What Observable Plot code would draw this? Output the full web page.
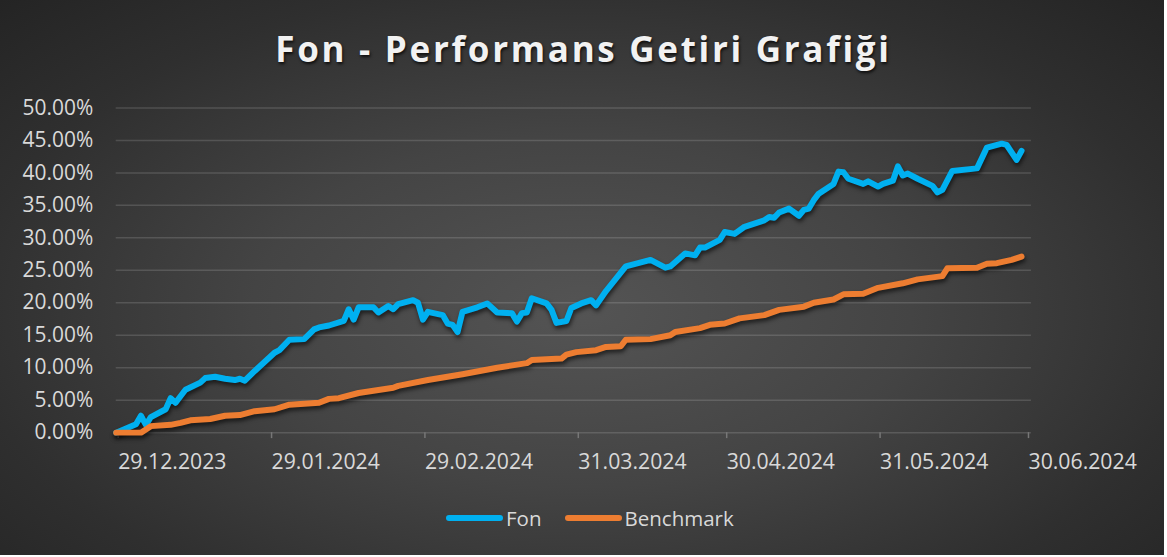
<!DOCTYPE html>
<html>
<head>
<meta charset="utf-8">
<script src="https://cdn.jsdelivr.net/npm/d3@7"></script>
<script src="https://cdn.jsdelivr.net/npm/@observablehq/plot@0.6"></script>
<style>
  html, body { margin: 0; padding: 0; background: #ffffff; }
  #chart {
    position: relative; width: 1164px; height: 555px; overflow: hidden;
    background: radial-gradient(ellipse farthest-corner at 50% 56%, #545454 0%, #444444 40%, #2f2f2f 75%, #242424 100%);
    font-family: "Open Sans", sans-serif;
  }
  #title {
    position: absolute; left: 0; width: 1167px; top: 25px; text-align: center;
    color: #f2f2f2; font-weight: 700; font-size: 35px; letter-spacing: 2.7px;
    text-shadow: 1px 2px 3px rgba(0,0,0,0.75);
  }
  #plot { position: absolute; left: 0; top: 95px; }
  #legend {
    position: absolute; top: 504px; left: 446px; display: flex; align-items: center;
    color: #d9d9d9; font-size: 20.5px;
  }
  .sw { width: 57px; height: 6px; border-radius: 3px; margin-right: 3px; }
  .item { display: flex; align-items: center; margin-right: 23px; }
  g.shadowed { filter: drop-shadow(1.5px 3px 2px rgba(0,0,0,0.6)); }
</style>
</head>
<body>
<div id="chart">
  <div id="title">Fon - Performans Getiri Grafiği</div>
  <div id="plot"></div>
  <div id="legend"></div>
</div>
<script>
const seriesNames = ["Fon", "Benchmark"];
const seriesColors = ["#00b0f0", "#ed7d31"];

const fonDates = ["2023-12-29","2024-01-02","2024-01-03","2024-01-04","2024-01-05","2024-01-08","2024-01-09","2024-01-10","2024-01-12","2024-01-15","2024-01-16","2024-01-18","2024-01-20","2024-01-22","2024-01-23","2024-01-24","2024-01-26","2024-01-30","2024-01-31","2024-02-02","2024-02-05","2024-02-07","2024-02-08","2024-02-10","2024-02-13","2024-02-14","2024-02-15","2024-02-16","2024-02-19","2024-02-20","2024-02-22","2024-02-23","2024-02-24","2024-02-27","2024-02-28","2024-02-29","2024-03-01","2024-03-04","2024-03-05","2024-03-06","2024-03-07","2024-03-08","2024-03-11","2024-03-13","2024-03-15","2024-03-18","2024-03-19","2024-03-20","2024-03-21","2024-03-22","2024-03-25","2024-03-26","2024-03-27","2024-03-29","2024-03-30","2024-04-01","2024-04-03","2024-04-04","2024-04-06","2024-04-10","2024-04-15","2024-04-18","2024-04-19","2024-04-22","2024-04-24","2024-04-25","2024-04-26","2024-04-29","2024-04-30","2024-05-02","2024-05-04","2024-05-08","2024-05-09","2024-05-10","2024-05-11","2024-05-13","2024-05-15","2024-05-16","2024-05-17","2024-05-18","2024-05-19","2024-05-22","2024-05-23","2024-05-24","2024-05-25","2024-05-28","2024-05-29","2024-05-31","2024-06-01","2024-06-03","2024-06-04","2024-06-05","2024-06-06","2024-06-08","2024-06-11","2024-06-12","2024-06-13","2024-06-15","2024-06-20","2024-06-22","2024-06-25","2024-06-26","2024-06-28","2024-06-29"];
const fonValues = [0.0,1.3,2.6,1.2,2.4,3.6,5.3,4.6,6.6,7.7,8.4,8.6,8.3,8.1,8.3,8.0,9.5,12.3,12.7,14.3,14.4,15.9,16.2,16.5,17.2,19.0,17.4,19.3,19.3,18.5,19.5,19.0,19.8,20.4,20.0,17.4,18.6,18.1,16.8,16.6,15.5,18.6,19.3,19.9,18.5,18.4,17.1,18.4,18.5,20.7,19.9,18.9,16.9,17.2,19.2,19.9,20.4,19.6,21.8,25.6,26.6,25.4,25.6,27.6,27.3,28.5,28.5,29.7,30.9,30.6,31.7,32.7,33.2,33.1,33.9,34.5,33.4,34.3,34.5,35.8,36.8,38.3,40.2,40.1,39.1,38.3,38.7,37.9,38.3,38.8,41.0,39.6,39.9,39.1,38.0,37.0,37.4,40.3,40.7,43.9,44.5,44.3,42.0,43.4];

const benchDates = ["2023-12-29","2024-01-03","2024-01-05","2024-01-09","2024-01-11","2024-01-13","2024-01-17","2024-01-20","2024-01-23","2024-01-26","2024-01-30","2024-02-02","2024-02-08","2024-02-10","2024-02-12","2024-02-16","2024-02-23","2024-02-24","2024-03-01","2024-03-08","2024-03-15","2024-03-21","2024-03-22","2024-03-28","2024-03-29","2024-03-31","2024-04-04","2024-04-06","2024-04-09","2024-04-10","2024-04-15","2024-04-19","2024-04-20","2024-04-25","2024-04-27","2024-04-30","2024-05-03","2024-05-08","2024-05-11","2024-05-16","2024-05-18","2024-05-22","2024-05-24","2024-05-28","2024-05-31","2024-06-05","2024-06-08","2024-06-13","2024-06-14","2024-06-20","2024-06-22","2024-06-24","2024-06-27","2024-06-29"];
const benchValues = [0.0,0.0,1.0,1.2,1.5,1.9,2.1,2.6,2.7,3.3,3.6,4.3,4.6,5.2,5.3,6.1,6.9,7.2,8.1,9.0,10.0,10.7,11.2,11.4,12.0,12.4,12.7,13.2,13.3,14.3,14.4,15.0,15.5,16.1,16.6,16.8,17.6,18.1,18.9,19.4,20.0,20.5,21.3,21.4,22.3,23.0,23.6,24.1,25.3,25.4,26.0,26.1,26.6,27.1];

const xTickDates = ["2023-12-29","2024-01-29","2024-02-29","2024-03-31","2024-04-30","2024-05-31","2024-06-30"];
const yTickValues = [0,5,10,15,20,25,30,35,40,45,50];
const xDomainDates = ["2023-12-29","2024-07-01"];

const parse = d3.utcParse("%Y-%m-%d");
const fmtDate = d3.utcFormat("%d.%m.%Y");
const fonRows = fonDates.map((d, i) => ({date: parse(d), value: fonValues[i]}));
const benchRows = benchDates.map((d, i) => ({date: parse(d), value: benchValues[i]}));

const chart = Plot.plot({
  width: 1167,
  height: 400,
  marginTop: 12.5,
  marginBottom: 62,
  marginLeft: 116,
  marginRight: 133.4,
  x: {type: "utc", domain: xDomainDates.map(parse)},
  y: {domain: [0, 50]},
  style: {background: "transparent", color: "#d9d9d9", fontFamily: "'Open Sans', sans-serif", fontSize: "20px", overflow: "visible"},
  marks: [
    Plot.gridY(yTickValues, {stroke: "#ffffff", strokeOpacity: 0.14, strokeWidth: 1.5}),
    Plot.axisY(yTickValues, {tickSize: 0, tickPadding: 23, tickFormat: d => d.toFixed(2) + "%", label: null, fontSize: 21, fill: "#d9d9d9"}),
    Plot.axisX(xTickDates.map(parse), {tickSize: 6, tickPadding: 15, textAnchor: "start", dx: 2, tickFormat: fmtDate, label: null, fontSize: 21.3, stroke: "#777777", strokeWidth: 1.5, fill: "#d9d9d9"}),
    Plot.line(fonRows, {x: "date", y: "value", stroke: seriesColors[0], strokeWidth: 6, strokeLinejoin: "round", strokeLinecap: "round", className: "shadowed"}),
    Plot.line(benchRows, {x: "date", y: "value", stroke: seriesColors[1], strokeWidth: 6, strokeLinejoin: "round", strokeLinecap: "round", className: "shadowed"})
  ]
});

document.getElementById("plot").appendChild(chart);

const legend = d3.select("#legend");
seriesNames.forEach((n, i) => {
  const it = legend.append("div").attr("class", "item");
  it.append("div").attr("class", "sw").style("background", seriesColors[i]);
  it.append("span").text(n);
});
</script>
</body>
</html>
